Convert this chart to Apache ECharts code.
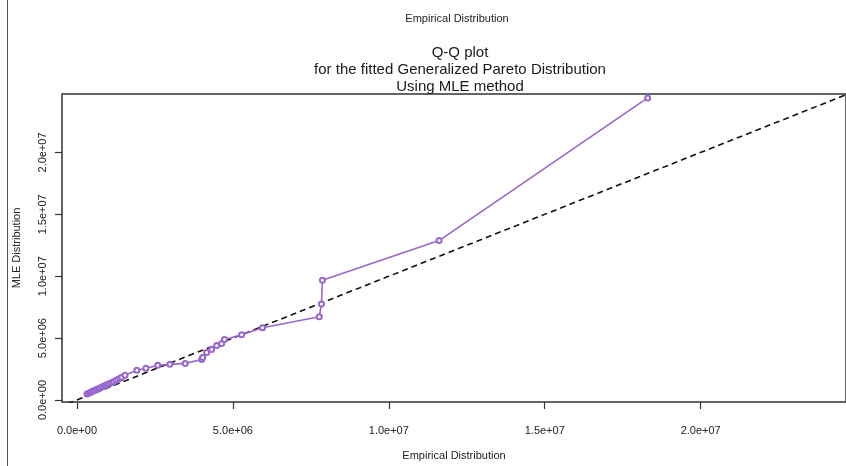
<!DOCTYPE html>
<html>
<head>
<meta charset="utf-8">
<script src="https://cdn.jsdelivr.net/npm/echarts@6/dist/echarts.min.js"></script>
<style>
html,body{margin:0;padding:0;background:#fff;}
#chart{width:846px;height:466px;}
</style>
</head>
<body>
<div id="chart"></div>
<script>
// Empirical quantiles (x) and fitted GPD (MLE) quantiles (y)
const empirical = [0.32e6,0.38e6,0.43e6,0.47e6,0.52e6,0.58e6,0.63e6,0.69e6,0.74e6,0.80e6,0.86e6,0.91e6,0.97e6,1.03e6,1.10e6,1.17e6,1.24e6,1.31e6,1.38e6,1.44e6,1.54e6,1.92e6,2.21e6,2.59e6,2.98e6,3.47e6,4.00e6,4.03e6,4.16e6,4.32e6,4.48e6,4.64e6,4.73e6,5.28e6,5.95e6,7.77e6,7.84e6,7.87e6,11.61e6,18.30e6];
const mleQuant = [0.48e6,0.55e6,0.61e6,0.66e6,0.72e6,0.79e6,0.85e6,0.92e6,0.98e6,1.05e6,1.12e6,1.18e6,1.25e6,1.32e6,1.40e6,1.48e6,1.57e6,1.65e6,1.75e6,1.84e6,2.00e6,2.40e6,2.56e6,2.80e6,2.88e6,2.96e6,3.28e6,3.44e6,3.84e6,4.08e6,4.40e6,4.56e6,4.88e6,5.28e6,5.84e6,6.72e6,7.76e6,9.68e6,12.88e6,24.40e6];
// reference line y = x
const refLine = [-0.6e6, 25e6];
const tickValues = [0, 5e6, 1e7, 1.5e7, 2e7];
const tickLabels = ['0.0e+00', '5.0e+06', '1.0e+07', '1.5e+07', '2.0e+07'];

const xMin = -0.48e6, xMax = 24.66e6;
const yMin = -0.16e6, yMax = 24.72e6;

const fmt = function (v) {
  const i = tickValues.indexOf(v);
  return i >= 0 ? tickLabels[i] : '';
};
const FONT = "'Liberation Sans', Arial, sans-serif";
const NARROW = "'Liberation Sans Narrow', 'Liberation Sans', Arial, sans-serif";

const chart = echarts.init(document.getElementById('chart'), null, {renderer: 'canvas'});
chart.setOption({
  animation: false,
  backgroundColor: '#fff',
  title: [
    {
      text: 'Empirical Distribution',
      left: 452, top: 8, textAlign: 'center',
      textStyle: {fontFamily: NARROW, fontSize: 11, fontWeight: 'normal', color: '#222'}
    },
    {
      text: 'Q-Q plot\nfor the fitted Generalized Pareto Distribution\nUsing MLE method',
      left: 455, top: 39, textAlign: 'center',
      textStyle: {fontFamily: FONT, fontSize: 15, fontWeight: 'normal', color: '#1a1a1a', lineHeight: 17}
    }
  ],
  graphic: [
    {type: 'line', shape: {x1: 7.5, y1: 0, x2: 7.5, y2: 466}, style: {stroke: '#6b4a40', lineWidth: 1}}
  ],
  grid: {
    left: 62, top: 94, right: -2, bottom: 61,
    show: true, borderColor: '#333', borderWidth: 1.5, backgroundColor: 'transparent'
  },
  xAxis: {
    type: 'value', min: xMin, max: xMax,
    name: 'Empirical Distribution', nameLocation: 'middle', nameGap: 48,
    nameTextStyle: {fontFamily: NARROW, fontSize: 11, color: '#222'},
    axisLine: {show: false, onZero: false},
    axisTick: {show: true, length: 7, customValues: tickValues, lineStyle: {color: '#333', width: 1.2}},
    axisLabel: {customValues: tickValues, formatter: fmt, margin: 23, fontFamily: NARROW, fontSize: 11, color: '#222'},
    splitLine: {show: false}
  },
  yAxis: {
    type: 'value', min: yMin, max: yMax,
    name: 'MLE Distribution', nameLocation: 'middle', nameGap: 40, nameRotate: 90,
    nameTextStyle: {fontFamily: NARROW, fontSize: 11, color: '#222'},
    axisLine: {show: false, onZero: false},
    axisTick: {show: true, length: 7, customValues: tickValues, lineStyle: {color: '#333', width: 1.2}},
    axisLabel: {customValues: tickValues, formatter: fmt, rotate: 90, margin: 14, fontFamily: NARROW, fontSize: 11, color: '#222'},
    splitLine: {show: false}
  },
  series: [
    {
      type: 'line',
      data: refLine.map(v => [v, v]),
      symbol: 'none',
      lineStyle: {color: '#111', width: 1.6, type: [6, 4]},
      clip: true,
      z: 3
    },
    {
      type: 'line',
      data: empirical.map((v, i) => [v, mleQuant[i]]),
      symbol: 'emptyCircle', symbolSize: 5,
      lineStyle: {color: '#9966cc', width: 1.6},
      itemStyle: {color: '#9966cc', borderWidth: 1.2},
      clip: false,
      z: 4
    }
  ]
});
</script>
</body>
</html>
